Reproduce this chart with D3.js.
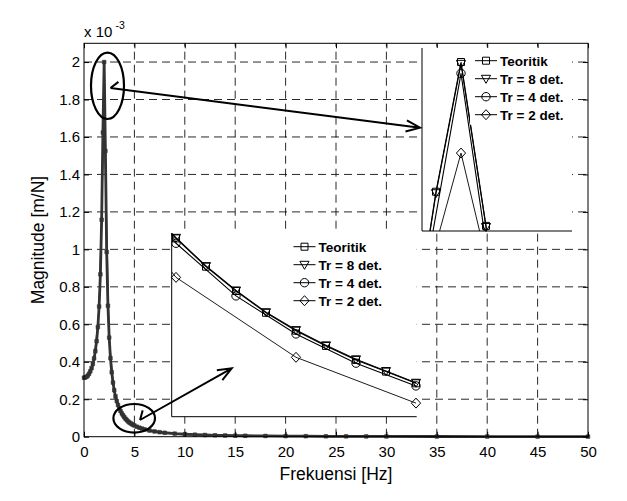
<!DOCTYPE html>
<html>
<head>
<meta charset="utf-8">
<script src="https://cdn.jsdelivr.net/npm/d3@7"></script>
<style>
  body { margin: 0; background: #fff; }
  text { font-family: "Liberation Sans", Arial, sans-serif; }
</style>
</head>
<body>
<div id="chart"></div>
<script>
// Frequency response, magnitude in units of 1e-3 m/N
var freqTeo = [0, 0.125, 0.25, 0.375, 0.5, 0.625, 0.75, 0.875, 1, 1.125, 1.25, 1.375, 1.5, 1.625, 1.75, 1.875,
    2, 2.125, 2.25, 2.375, 2.5, 2.625, 2.75, 2.875, 3, 3.125, 3.25, 3.375, 3.5, 3.625, 3.75, 3.875,
    4, 4.125, 4.25, 4.375, 4.5, 4.625, 4.75, 4.875, 5, 5.25, 5.5, 5.75, 6, 6.5, 7, 7.5, 8, 9, 10,
    11, 12, 13, 14, 15, 16, 18, 20, 22, 24, 26, 28, 30, 35, 40, 45, 50];
var magTeo = [0.315, 0.316, 0.320, 0.326, 0.336, 0.349, 0.366, 0.388, 0.418, 0.457, 0.510, 0.585, 0.695, 0.867, 1.158, 1.624,
    2.000, 1.525, 0.986, 0.699, 0.529, 0.419, 0.344, 0.289, 0.248, 0.215, 0.190, 0.169, 0.151, 0.137, 0.124, 0.114,
    0.1044, 0.0957, 0.0882, 0.0815, 0.0760, 0.0713, 0.0670, 0.0634, 0.0598, 0.0533, 0.0479, 0.0433, 0.0393, 0.0329, 0.0280, 0.0241, 0.0210, 0.0164, 0.0131,
    0.0108, 0.0090, 0.0076, 0.0066, 0.0057, 0.0050, 0.0039, 0.0032, 0.0026, 0.0022, 0.0019, 0.0016, 0.0014, 0.0010, 0.0008, 0.0006, 0.0005];

var freqTr8 = [1.5, 1.625, 1.75, 1.875, 2, 2.125, 2.25, 2.375, 2.5, 2.625, 2.75, 2.875, 3, 3.125, 3.25, 3.375,
    3.5, 3.625, 3.75, 3.875, 4, 4.125, 4.25, 4.375, 4.5, 4.625, 4.75, 4.875, 5];
var magTr8 = [0.690, 0.862, 1.150, 1.620, 1.995, 1.522, 0.980, 0.695, 0.526, 0.417, 0.343, 0.288, 0.247, 0.215, 0.190, 0.169,
    0.152, 0.137, 0.125, 0.114, 0.1046, 0.0959, 0.0884, 0.0817, 0.0762, 0.0715, 0.0672, 0.0636, 0.0600];

var freqTr4 = [1, 1.25, 1.5, 1.75, 2, 2.25, 2.5, 2.75, 3, 3.25, 3.5, 3.75, 4, 4.25, 4.5, 4.75, 5];
var magTr4 = [0.412, 0.505, 0.688, 1.150, 1.967, 0.982, 0.524, 0.340, 0.245, 0.187, 0.149, 0.122, 0.1029, 0.0867, 0.0750, 0.0660, 0.0590];

var freqTr2 = [0.5, 1, 1.5, 2, 2.5, 3, 3.5, 4, 4.5, 5];
var magTr2 = [0.330, 0.405, 0.680, 1.736, 0.520, 0.236, 0.138, 0.0924, 0.0678, 0.0537];

var seriesNames = ["Teoritik", "Tr = 8 det.", "Tr = 4 det.", "Tr = 2 det."];
var xTicks = [0, 5, 10, 15, 20, 25, 30, 35, 40, 45, 50];
var yTicks = [0, 0.2, 0.4, 0.6, 0.8, 1, 1.2, 1.4, 1.6, 1.8, 2];

var width = 627, height = 501;
var plot = { left: 84, right: 588, top: 43.3, bottom: 436.7 };

var svg = d3.select("#chart").append("svg")
    .attr("width", width)
    .attr("height", height);

var x = d3.scaleLinear().domain([0, 50]).range([plot.left, plot.right]);
var y = d3.scaleLinear().domain([0, 2.1]).range([plot.bottom, plot.top]);

// marker shapes (MATLAB style, open)
var markers = [
    function (s) { s = s || 3.5; return "M" + (-s) + "," + (-s) + "h" + (2 * s) + "v" + (2 * s) + "h" + (-2 * s) + "Z"; },
    function () { return "M-4.6,-3.4L4.6,-3.4L0,4.6Z"; },
    function () { return "M4.2,0A4.2,4.2 0 1,1 -4.2,0A4.2,4.2 0 1,1 4.2,0Z"; },
    function () { return "M0,-5L4.6,0L0,5L-4.6,0Z"; }
];

var series = [
    { f: freqTeo, m: magTeo },
    { f: freqTr8, m: magTr8 },
    { f: freqTr4, m: magTr4 },
    { f: freqTr2, m: magTr2 }
];

// Grid
var grid = svg.append("g").attr("class", "grid")
    .attr("stroke", "#111").attr("stroke-width", 0.9).attr("stroke-dasharray", "8,5");
grid.selectAll(".gx").data(xTicks.slice(1, -1)).enter().append("line")
    .attr("x1", function (d) { return x(d); }).attr("x2", function (d) { return x(d); })
    .attr("y1", plot.bottom).attr("y2", plot.top);
grid.selectAll(".gy").data(yTicks.slice(1)).enter().append("line")
    .attr("y1", function (d) { return y(d); }).attr("y2", function (d) { return y(d); })
    .attr("x1", plot.left).attr("x2", plot.right);

// Main curves
var mainLine = d3.line()
    .x(function (d) { return x(d[0]); })
    .y(function (d) { return y(d[1]); });

var pairs = series.map(function (s) { return s.f.map(function (f, i) { return [f, s.m[i]]; }); });

[3, 2, 1].forEach(function (k) {
    svg.append("path").datum(pairs[k])
        .attr("d", mainLine)
        .attr("fill", "none")
        .attr("stroke", "#5a5a5a")
        .attr("stroke-width", 1.3);
});
svg.append("path").datum(pairs[0])
    .attr("d", mainLine)
    .attr("fill", "none")
    .attr("stroke", "#333")
    .attr("stroke-width", 2.8);
svg.append("g").selectAll("path").data(pairs[0]).enter().append("path")
    .attr("transform", function (d) { return "translate(" + x(d[0]) + "," + y(d[1]) + ")"; })
    .attr("d", markers[0](1.8))
    .attr("fill", "#333")
    .attr("stroke", "#333")
    .attr("stroke-width", 0.6);

// Axes
var xAxisB = d3.axisBottom(x).tickValues(xTicks).tickSizeInner(-5).tickSizeOuter(0).tickPadding(9.5)
    .tickFormat(d3.format("~g"));
var xAxisT = d3.axisTop(x).tickValues(xTicks).tickSizeInner(-5).tickSizeOuter(0).tickFormat("");
var yAxisL = d3.axisLeft(y).tickValues(yTicks).tickSizeInner(-5).tickSizeOuter(0).tickPadding(4)
    .tickFormat(d3.format("~g"));
var yAxisR = d3.axisRight(y).tickValues(yTicks).tickSizeInner(-5).tickSizeOuter(0).tickFormat("");

function styleAxis(g) {
    g.select(".domain").remove();
    g.selectAll("line").attr("stroke", "#000");
    g.selectAll("text").attr("font-size", "15px").attr("fill", "#000")
        .attr("font-family", "Liberation Sans, Arial, sans-serif");
}
svg.append("g").attr("transform", "translate(0," + plot.bottom + ")").call(xAxisB).call(styleAxis);
svg.append("g").attr("transform", "translate(0," + plot.top + ")").call(xAxisT).call(styleAxis);
svg.append("g").attr("transform", "translate(" + plot.left + ",0)").call(yAxisL).call(styleAxis);
svg.append("g").attr("transform", "translate(" + plot.right + ",0)").call(yAxisR).call(styleAxis);

svg.append("rect")
    .attr("x", plot.left).attr("y", plot.top)
    .attr("width", plot.right - plot.left).attr("height", plot.bottom - plot.top)
    .attr("fill", "none").attr("stroke", "#000").attr("stroke-width", 1);

// Exponent label
svg.append("text").attr("x", 84).attr("y", 37).attr("font-size", "15px").text("x 10");
svg.append("text").attr("x", 115.5).attr("y", 28.5).attr("font-size", "10.5px").text("-3");

// Axis labels
svg.append("text")
    .attr("x", (plot.left + plot.right) / 2).attr("y", 480)
    .attr("text-anchor", "middle").attr("font-size", "17.5px")
    .text("Frekuensi [Hz]");
svg.append("text")
    .attr("transform", "translate(44," + ((plot.top + plot.bottom) / 2) + ") rotate(-90)")
    .attr("text-anchor", "middle").attr("font-size", "17.5px")
    .text("Magnitude [m/N]");

// Insets
function drawInset(box, xDom, yDom, id, legendPos, legendBg) {
    var ix = d3.scaleLinear().domain(xDom).range([box.x0, box.x1]);
    var iy = d3.scaleLinear().domain(yDom).range([box.y1, box.y0]);

    var g = svg.append("g").attr("class", "inset");
    g.append("rect")
        .attr("x", box.x0).attr("y", box.y0)
        .attr("width", box.x1 - box.x0).attr("height", box.y1 - box.y0)
        .attr("fill", "#fff");

    svg.append("clipPath").attr("id", id)
        .append("rect")
        .attr("x", box.x0).attr("y", box.y0)
        .attr("width", box.x1 - box.x0).attr("height", box.y1 - box.y0);

    var line = d3.line()
        .x(function (d) { return ix(d[0]); })
        .y(function (d) { return iy(d[1]); });

    pairs.forEach(function (p, k) {
        g.append("path").datum(p)
            .attr("d", line)
            .attr("clip-path", "url(#" + id + ")")
            .attr("fill", "none")
            .attr("stroke", "#000")
            .attr("stroke-width", k === 3 ? 0.9 : 1.1);
        var inside = p.filter(function (d) {
            return d[0] >= xDom[0] && d[0] <= xDom[1] && d[1] >= yDom[0] && d[1] <= yDom[1];
        });
        g.append("g").selectAll("path").data(inside).enter().append("path")
            .attr("transform", function (d) { return "translate(" + ix(d[0]) + "," + iy(d[1]) + ")"; })
            .attr("d", markers[k]())
            .attr("fill", "none")
            .attr("stroke", "#000")
            .attr("stroke-width", 1);
    });

    g.append("path")
        .attr("d", "M" + box.x0 + "," + box.y0 + "V" + box.y1 + "H" + box.x1)
        .attr("fill", "none").attr("stroke", "#000").attr("stroke-width", 1);

    // legend
    var lg = g.append("g").attr("transform", "translate(" + legendPos[0] + "," + legendPos[1] + ")");
    if (legendBg) {
        lg.append("rect").attr("x", -5).attr("y", -9).attr("width", legendBg[0]).attr("height", legendBg[1])
            .attr("fill", "#fff");
    }
    seriesNames.forEach(function (name, k) {
        var row = lg.append("g").attr("transform", "translate(0," + (k * 18) + ")");
        row.append("line").attr("x1", 0).attr("x2", 22).attr("y1", 0).attr("y2", 0)
            .attr("stroke", "#000").attr("stroke-width", 1);
        row.append("path").attr("transform", "translate(11,0)").attr("d", markers[k]())
            .attr("fill", "none").attr("stroke", "#000").attr("stroke-width", 1);
        row.append("text").attr("x", 25).attr("y", 0).attr("dy", "0.36em")
            .attr("font-size", "13.5px").attr("font-weight", "bold")
            .text(name);
    });
}

drawInset({ x0: 422, x1: 572, y0: 48, y1: 231 }, [1.805, 2.555], [1.5101, 2.0406], "clipPeak",
    [475, 60.7], [102, 73]);
drawInset({ x0: 171.7, x1: 416.7, y0: 233, y1: 416.7 }, [3.982, 5.003], [0.04952, 0.10606], "clipTail",
    [293.5, 246.7], null);

// Ellipses and arrows
var notes = svg.append("g").attr("fill", "none").attr("stroke", "#000").attr("stroke-width", 2.2);
notes.append("ellipse").attr("cx", 107.5).attr("cy", 85.8).attr("rx", 16.5).attr("ry", 33.2);
notes.append("ellipse").attr("cx", 134.2).attr("cy", 418.3).attr("rx", 20.8).attr("ry", 14.3);

function arrow(x1, y1, x2, y2) {
    var a = Math.atan2(y2 - y1, x2 - x1);
    var hl = 15, ha = 22 * Math.PI / 180;
    var back = a + Math.PI;
    var p = "M" + x1 + "," + y1 + "L" + x2 + "," + y2;
    p += "M" + (x2 + hl * Math.cos(back + ha)) + "," + (y2 + hl * Math.sin(back + ha)) + "L" + x2 + "," + y2 +
        "L" + (x2 + hl * Math.cos(back - ha)) + "," + (y2 + hl * Math.sin(back - ha));
    // small barb at the tail
    var ta = a - 45 * Math.PI / 180;
    p += "M" + x1 + "," + y1 + "L" + (x1 + 10 * Math.cos(ta)) + "," + (y1 + 10 * Math.sin(ta));
    notes.append("path").attr("d", p).attr("stroke-width", 2).attr("stroke-linejoin", "miter");
}
arrow(110.5, 88, 420, 127.7);
arrow(140, 420, 231.7, 368.3);
</script>
</body>
</html>
